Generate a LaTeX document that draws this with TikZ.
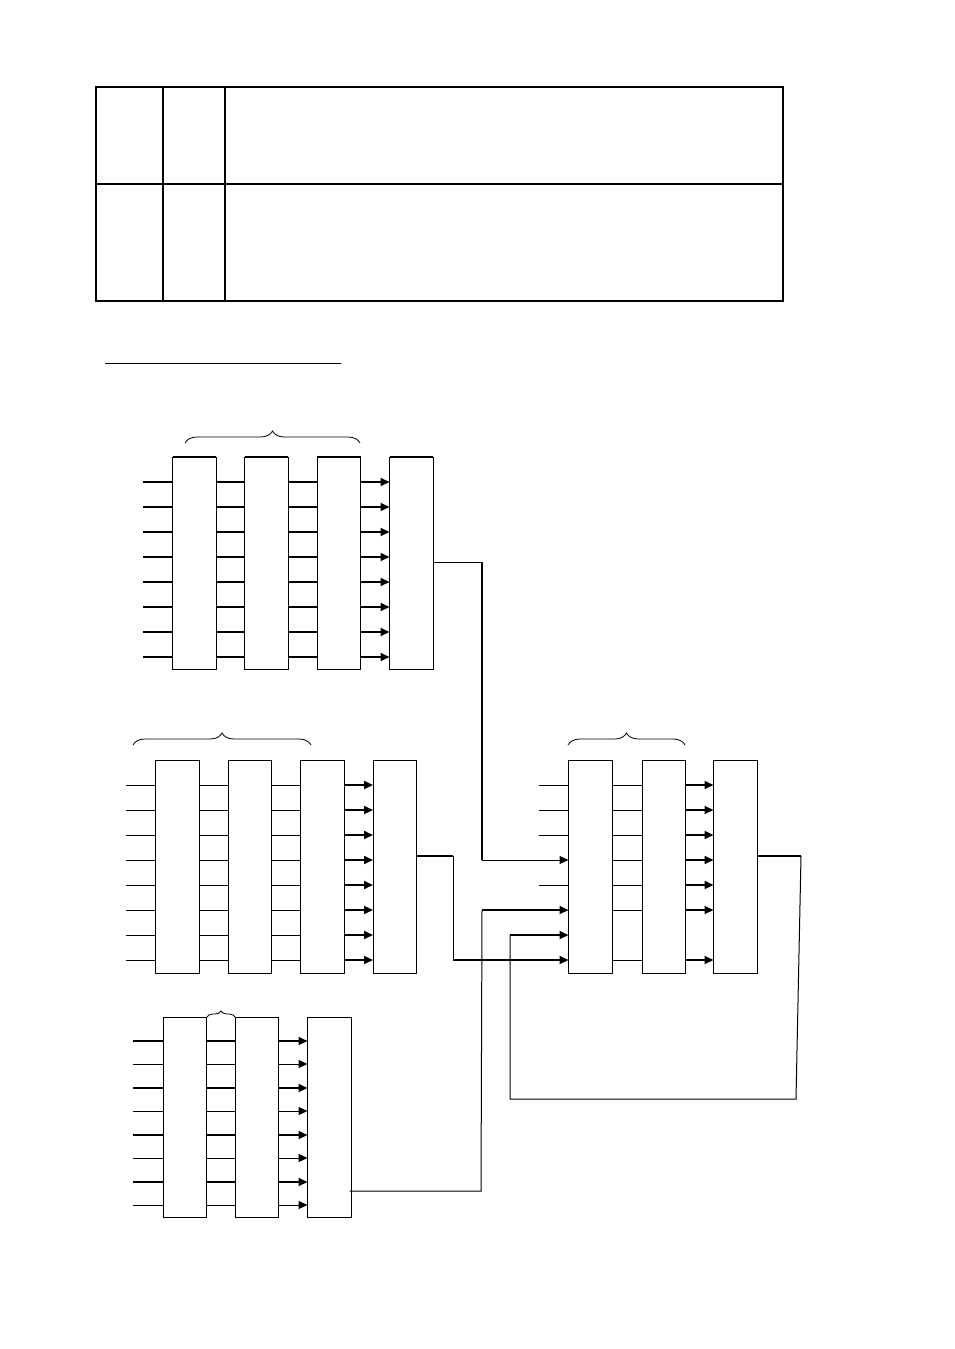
\documentclass[tikz,border=0pt]{standalone}
\usetikzlibrary{arrows.meta,decorations.pathreplacing}
\begin{document}
\begin{tikzpicture}[x=1pt,y=-1pt,
  blk/.style={draw,line width=1pt,minimum width=43.5pt,minimum height=212.5pt,anchor=north west,inner sep=0pt,outer sep=0pt},
  blkc/.style={blk,minimum height=200pt},
  thn/.style={line width=1pt},
  thk/.style={line width=1.8pt},
  arr/.style={-{Triangle[length=9pt,width=8pt]}},
  brc/.style={line width=0.8pt,decorate,decoration={brace,amplitude=#1}}]
\useasboundingbox (0,0) rectangle (954,1349);
% table
\draw[line width=1.2pt] (96,87) rectangle (783,301);
\draw[line width=1.2pt] (163,87) -- (163,301);
\draw[line width=1.2pt] (225,87) -- (225,301);
\draw[line width=1.2pt] (96,184) -- (783,184);
% underline
\draw[thn] (105,363) -- (341,363);

% group A
\node[blk] (a1) at (172.5,457) {};
\node[blk] (a2) at (244.5,457) {};
\node[blk] (a3) at (317,457) {};
\node[blk] (a4) at (389.5,457) {};
\foreach \n in {a1,a2,a3,a4} \draw[thk] (\n.north west) -- (\n.north east);
\draw[brc=12pt] (185,443) -- (360,443);
\foreach \y [count=\i] in {482,507,532,557,582,607,632,657} {
  \coordinate (ya\i) at (0,\y);
  \draw[thk] (143,\y) -- (a1.west |- ya\i);
  \draw[thk] (a1.east |- ya\i) -- (a2.west |- ya\i);
  \draw[thk] (a2.east |- ya\i) -- (a3.west |- ya\i);
  \draw[thk,arr] (a3.east |- ya\i) -- (a4.west |- ya\i);
}

% group B
\node[blk] (b1) at (155.5,760.5) {};
\node[blk] (b2) at (228,760.5) {};
\node[blk] (b3) at (300.5,760.5) {};
\node[blk] (b4) at (373,760.5) {};
\draw[brc=12pt] (133,745) -- (311,745);
\foreach \y [count=\i] in {785,810,835,860,885,910,935,960} {
  \coordinate (yb\i) at (0,\y);
  \draw[thn] (126,\y) -- (b1.west |- yb\i);
  \draw[thn] (b1.east |- yb\i) -- (b2.west |- yb\i);
  \draw[thn] (b2.east |- yb\i) -- (b3.west |- yb\i);
  \draw[thk,arr] (b3.east |- yb\i) -- (b4.west |- yb\i);
}

% right group
\node[blk] (r1) at (568.5,760.5) {};
\node[blk] (r2) at (642,760.5) {};
\node[blk] (r3) at (713.5,760.5) {};
\draw[brc=12pt] (568,745) -- (685,745);
\foreach \y [count=\i] in {785,810,835,860,885,910,935,960} {
  \coordinate (yr\i) at (0,\y);
}
\foreach \i in {1,2,3,5} \draw[thn] (539,0 |- yr\i) -- (r1.west |- yr\i);
\foreach \i in {1,2,3,4,5,6,8} {
  \draw[thn] (r1.east |- yr\i) -- (r2.west |- yr\i);
  \draw[thk,arr] (r2.east |- yr\i) -- (r3.west |- yr\i);
}

% group C
\node[blkc] (c1) at (163,1017.5) {};
\node[blkc] (c2) at (235,1017.5) {};
\node[blkc] (c3) at (307.5,1017.5) {};
\draw[brc=6pt] (207,1017) -- (235,1017);
\foreach \y/\w [count=\i] in {1041/thk,1064/thn,1088/thk,1111/thn,1135/thk,1158/thn,1182/thk,1205/thn} {
  \coordinate (yc\i) at (0,\y);
  \draw[\w] (133,\y) -- (c1.west |- yc\i);
  \draw[\w] (c1.east |- yc\i) -- (c2.west |- yc\i);
  \draw[\w,arr] (c2.east |- yc\i) -- (c3.west |- yc\i);
}

% connections
\coordinate (ao) at (0,562);
\coordinate (bo) at (0,856);
\coordinate (co) at (0,1191);
% A -> R
\coordinate (p1) at (482,562);
\coordinate (p2) at (482,860);
\draw[thn] (a4.east |- ao) -- (p1);
\draw[thk] (p1) -- (p2);
\draw[thn,arr] (p2) -- (r1.west |- yr4);
% B -> R
\coordinate (q1) at (453,856);
\coordinate (q2) at (453,960);
\draw[thk] (b4.east |- bo) -- (q1);
\draw[thn] (q1) -- (q2);
\draw[thk,arr] (q2) -- (r1.west |- yr8);
% C -> R
\coordinate (s1) at (481,1191);
\coordinate (s2) at (482,910);
\draw[thn] ([xshift=-1.5pt]c3.east |- co) -- (s1) -- (s2);
\draw[thk,arr] (s2) -- (r1.west |- yr6);
% feedback R -> R
\coordinate (f1) at (801,856);
\coordinate (f2) at (796,1099);
\coordinate (f3) at (510,1099);
\coordinate (f4) at (510,935);
\draw[thk] (r3.east |- bo) -- (f1);
\draw[thn] (f1) -- (f2) -- (f3) -- (f4);
\draw[thk,arr] (f4) -- (r1.west |- yr7);
\end{tikzpicture}
\end{document}
